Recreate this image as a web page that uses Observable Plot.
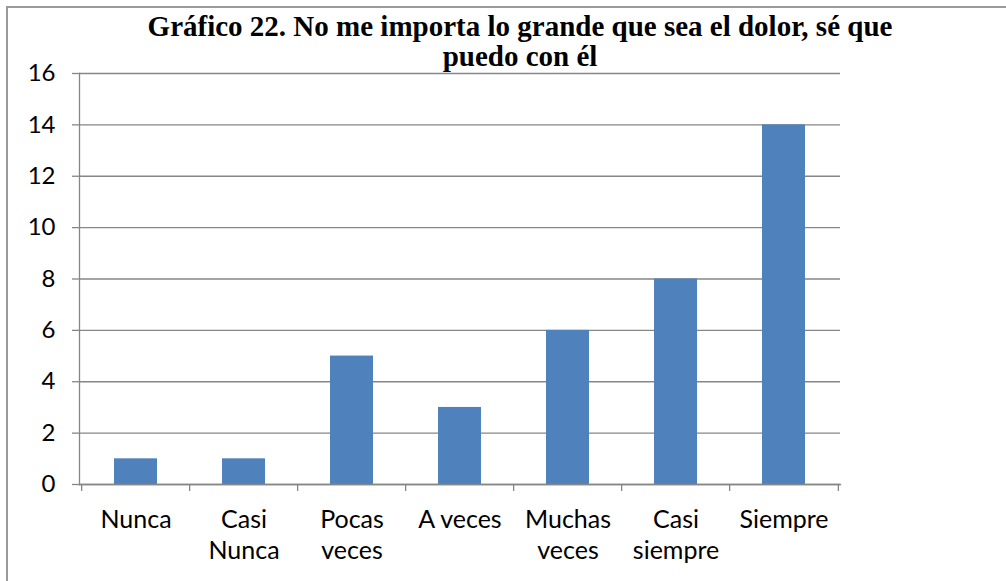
<!DOCTYPE html>
<html>
<head>
<meta charset="utf-8">
<script src="https://cdn.jsdelivr.net/npm/d3@7"></script>
<script src="https://cdn.jsdelivr.net/npm/@observablehq/plot@0.6"></script>
<style>
  html, body { margin: 0; padding: 0; background: #fff; overflow: hidden; }
  #wrap { position: relative; width: 1006px; height: 581px; }
  #border { position: absolute; left: 6px; top: 6px; width: 1100px; height: 1100px;
            border-left: 2px solid #9a9a9a; border-top: 2px solid #9a9a9a; box-sizing: border-box; }
  #title { position: absolute; left: 70px; width: 900px; top: 11px; text-align: center;
           font-family: "Liberation Serif", serif; font-weight: bold; font-size: 29px; line-height: 30px; color: #000; }
  #chart { position: absolute; left: 0; top: 0; }
</style>
</head>
<body>
<div id="wrap">
  <div id="chart"></div>
  <div id="border"></div>
  <div id="title">Gráfico 22. No me importa lo grande que sea el dolor, sé que<br>puedo con él</div>
</div>
<script>
const categories = ["Nunca", "Casi\nNunca", "Pocas\nveces", "A veces", "Muchas\nveces", "Casi\nsiempre", "Siempre"];
const values = [1, 1, 5, 3, 6, 8, 14];
const yTicks = [0, 2, 4, 6, 8, 10, 12, 14, 16];

const data = categories.map((c, i) => ({cat: c, value: values[i]}));

const W = 1006, H = 581;
const mL = 79, mR = 166, mT = 73, mB = 97;
const step = (W - mL - mR) / categories.length;

const chart = Plot.plot({
  width: W, height: H,
  marginLeft: mL, marginRight: mR, marginTop: mT, marginBottom: mB,
  style: {fontFamily: "Lato, sans-serif", fontSize: "24px", color: "#000", background: "transparent"},
  x: {domain: categories, paddingInner: 0.6, paddingOuter: 0.3, label: null},
  y: {domain: [0, 16], label: null},
  marks: [
    Plot.gridY(yTicks, {stroke: "#868686", strokeOpacity: 1, strokeWidth: 1.3}),
    Plot.barY(data, {x: "cat", y: "value", fill: "#4f81bd"}),
    Plot.frame({anchor: "left", stroke: "#868686", strokeWidth: 1.3}),
    Plot.frame({anchor: "bottom", stroke: "#868686", strokeWidth: 1.3}),
    Plot.axisY({ticks: yTicks, tickSize: 7, tickPadding: 17, stroke: "#868686", strokeWidth: 1.3, fontSize: 24, tickFormat: d => String(d), label: null}),
    Plot.ruleX(categories, {x: d => d, dx: -step / 2, y1: 0, y2: 0, insetBottom: -7, stroke: "#868686", strokeWidth: 1.3}),
    Plot.ruleX([categories[categories.length - 1]], {x: d => d, dx: step / 2, y1: 0, y2: 0, insetBottom: -7, stroke: "#868686", strokeWidth: 1.3}),
    Plot.axisX({tickSize: 0, tickPadding: 21, fontSize: 25, lineHeight: 1.24, label: null})
  ]
});
document.getElementById("chart").appendChild(chart);
</script>
</body>
</html>
